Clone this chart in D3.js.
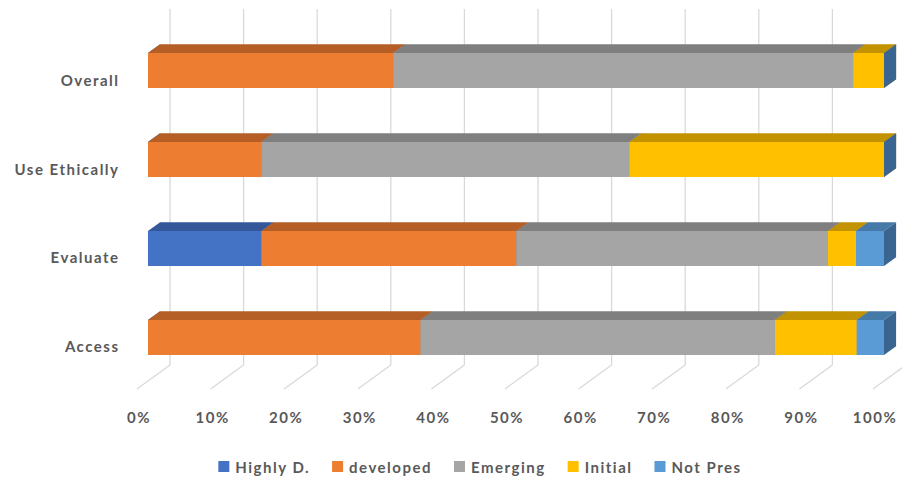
<!DOCTYPE html>
<html>
<head>
<meta charset="utf-8">
<script src="https://cdn.jsdelivr.net/npm/d3@7"></script>
<style>
  body { margin: 0; background: #fff; }
  text { font-family: Lato, "Open Sans", sans-serif; fill: #595959; font-size: 15px; font-weight: 700; letter-spacing: 1.5px; }
</style>
</head>
<body>
<div id="chart"></div>
<script>
// data (percent of each category)
const categories = ["Overall", "Use Ethically", "Evaluate", "Access"];
const seriesNames = ["Highly D.", "developed", "Emerging", "Initial", "Not Pres"];
const highlyDeveloped = [0, 0, 15.4, 0];
const developed = [33.3, 15.4, 34.6, 37.0];
const emerging = [62.5, 50.0, 42.3, 48.1];
const initial = [4.2, 34.6, 3.8, 11.1];
const notPresent = [0, 0, 3.8, 3.7];
const ticks = [0, 0.1, 0.2, 0.3, 0.4, 0.5, 0.6, 0.7, 0.8, 0.9, 1];

const frontColors = ["#4472c4", "#ed7d31", "#a5a5a5", "#ffc000", "#5b9bd5"];
const topColors = ["#34589a", "#b55f26", "#7f7f7f", "#c29200", "#4579a8"];
const sideColors = ["#2c4a80", "#8f4a1d", "#6a6a6a", "#9c7600", "#3a6590"];

const width = 902, height = 480;

const svg = d3.select("#chart").append("svg")
    .attr("width", width)
    .attr("height", height);

// front floor edge of the 3D plot
const x = d3.scaleLinear().domain([0, 1]).range([137, 873]);
const depth = { dx: 33, dy: -24 };   // full floor depth
const barFront = 1 / 3, barBack = 0.7;
const wallTop = 9, floorBack = 365;

const y = d3.scaleBand()
    .domain(categories)
    .range([8.5, 399.5])
    .paddingInner(0.6067)
    .paddingOuter(0.5);

// back wall gridlines + floor lines
const grid = svg.append("g").attr("stroke", "#d9d9d9").attr("stroke-width", 1.3).attr("fill", "none");
grid.selectAll("line.wall")
    .data(ticks)
    .join("line")
    .attr("class", "wall")
    .attr("x1", d => x(d) + depth.dx).attr("x2", d => x(d) + depth.dx)
    .attr("y1", wallTop).attr("y2", floorBack);
grid.selectAll("line.floor")
    .data(ticks)
    .join("line")
    .attr("class", "floor")
    .attr("x1", d => x(d) + depth.dx).attr("y1", floorBack)
    .attr("x2", d => x(d)).attr("y2", floorBack - depth.dy);

// stacked + normalised
const rows = categories.map((c, i) => ({
    cat: c,
    "Highly D.": highlyDeveloped[i],
    "developed": developed[i],
    "Emerging": emerging[i],
    "Initial": initial[i],
    "Not Pres": notPresent[i]
}));
const stacked = d3.stack().keys(seriesNames).offset(d3.stackOffsetExpand)(rows);

const fx = v => x(v) + depth.dx * barFront;          // bar front-face x
const ox = depth.dx * (barBack - barFront);          // bar depth offsets
const oy = depth.dy * (barBack - barFront);

const bars = svg.append("g");
categories.forEach((c, ci) => {
    const g = bars.append("g");
    const y0 = y(c), h = y.bandwidth();
    stacked.forEach((s, si) => {
        const a = fx(s[ci][0]), b = fx(s[ci][1]);
        // top face
        g.append("path")
            .attr("d", d3.line()([[a, y0], [a + ox, y0 + oy], [b + ox, y0 + oy], [b, y0]]) + "Z")
            .attr("fill", topColors[si]);
        // front face
        g.append("rect")
            .attr("x", a).attr("y", y0)
            .attr("width", b - a).attr("height", h)
            .attr("fill", frontColors[si]);
        // right side face
        g.append("path")
            .attr("d", d3.line()([[b, y0], [b + ox, y0 + oy], [b + ox, y0 + h + oy], [b, y0 + h]]) + "Z")
            .attr("fill", sideColors[si]);
    });
});

// category labels
svg.append("g").selectAll("text")
    .data(categories)
    .join("text")
    .attr("x", 119.5)
    .attr("y", d => y(d) + y.bandwidth() / 2 + 15)
    .attr("text-anchor", "end")
    .text(d => d);

// value axis labels
svg.append("g").selectAll("text")
    .data(ticks)
    .join("text")
    .attr("x", d => x(d) + 2)
    .attr("y", 423)
    .attr("text-anchor", "middle")
    .text(d3.format(".0%"));

// legend
const legend = svg.append("g").attr("transform", "translate(0,467)");
const items = legend.selectAll("g")
    .data(seriesNames)
    .join("g");
items.append("rect")
    .attr("width", 11).attr("height", 11)
    .attr("y", -6)
    .attr("fill", (d, i) => frontColors[i]);
items.append("text")
    .attr("x", 17)
    .attr("y", 5.5)
    .text(d => d);
let cursor = 0;
const offsets = [];
items.each(function () {
    offsets.push(cursor);
    cursor += 17 + d3.select(this).select("text").node().getComputedTextLength() + 22;
});
const total = cursor - 22;
const start = 480 - total / 2;
items.attr("transform", (d, i) => `translate(${start + offsets[i]},0)`);
</script>
</body>
</html>
